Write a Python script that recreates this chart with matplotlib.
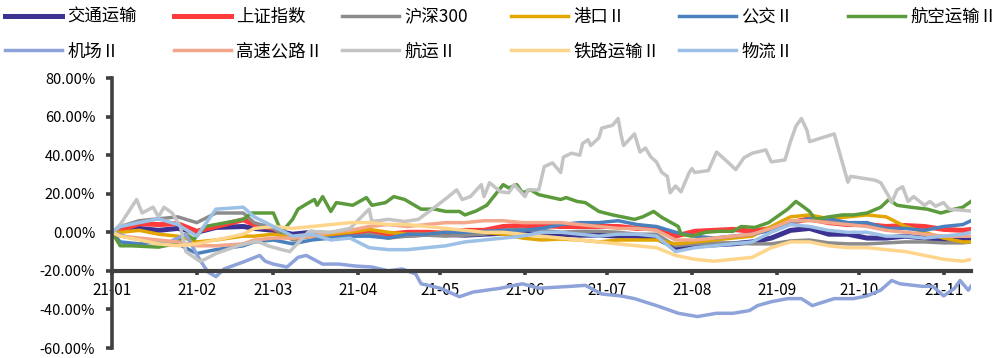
import matplotlib
matplotlib.use("Agg")
import matplotlib.pyplot as plt
import matplotlib.dates as mdates
from matplotlib.ticker import FuncFormatter
import pandas as pd

plt.rcParams['font.family'] = ['Noto Sans CJK SC', 'DejaVu Sans']

# weekly sample dates used by most series
week_dates = ['2021-01-01', '2021-01-04', '2021-01-11', '2021-01-18', '2021-01-25',
              '2021-02-01', '2021-02-08', '2021-02-18', '2021-02-22', '2021-03-01',
              '2021-03-08', '2021-03-15', '2021-03-22', '2021-03-29', '2021-04-05',
              '2021-04-12', '2021-04-19', '2021-04-26', '2021-05-03', '2021-05-10',
              '2021-05-17', '2021-05-24', '2021-05-31', '2021-06-07', '2021-06-14',
              '2021-06-21', '2021-06-28', '2021-07-05', '2021-07-12', '2021-07-19',
              '2021-07-26', '2021-08-02', '2021-08-09', '2021-08-16', '2021-08-23',
              '2021-08-30', '2021-09-06', '2021-09-13', '2021-09-20', '2021-09-27',
              '2021-10-04', '2021-10-11', '2021-10-18', '2021-10-25', '2021-11-01',
              '2021-11-08', '2021-11-11']

jiaotong = [0, 1, 2, 1, 2, 0, 2.5, 3, 2, 1, -1, 0, -1, -1, 0, -1, -1.5, -1, -1, -1.5,
            -1, -0.5, -0.5, -1, -1, -1.5, -1.5, -2, -2, -3, -8, -7, -6.5, -6, -5,
            -3, 1, 2, -1, -1, -3, -3, -2, -3, -4, -4, -4]
shanghai = [0, 1, 4.5, 4, 4.5, 0.5, 3, 6.5, 4, 2, -3, -1, -1, -1, 0, -1, 0, 0, -0.5, 1,
            1, 3, 3.5, 3.5, 3, 3, 3, 3, 2, 2.5, -2, 0.5, 1, 1.5, 0.5, 2, 5, 7, 5, 4,
            4, 3, 3.5, 3, 1.5, 1, 1.5]
hs300 = [0, 3, 6, 7, 8, 5, 10, 10, 5, 2, -4, -2, -3, -2.5, -1, -3, -2, -1.5, -2, -1.5,
         -1, 1, 1.5, 1, 0, 0.5, 0.5, 0, -1, -1, -7, -6, -5.5, -5.5, -6, -6, -4.5, -4,
         -5.5, -6, -6, -5.5, -5, -5, -5.5, -5.5, -5]
gangkou = [0, 0, 1, -1, -2, -5, -4, -2, -2, -1, -3, -2, -1, 0, 1.5, 0, -1, -1, 0, 1,
           0, -1, -3, -4, -3.5, -4, -5, -4, -4, -4, -6, -5, -4, -3, -2, 3, 8, 9, 7, 8,
           9, 8, 3, 0, -3, -5, -5]
gongjiao = [0, -5, -6, -5, -6, -11, -9, -7, -5, -4, -6, -4, -3, -2, -2, -3, -1, -1, 0, 0,
            0.5, 1, 1, 2, 4, 5, 5, 6, 4, 3, 0, -2, -3, -2, -1, 1, 5, 7, 7, 5,
            5, 2, 2, 1, 3, 4, 6]
gaosu = [0, -2, -3, -4, -5, -7, -7, -6, -4, -3, -3, -2, 0, 1, 3, 4, 3, 4, 5, 5,
         6, 6, 5, 5, 5, 4, 3, 2, 2, 1, -4, -4, -3, -2, -1, 2, 6, 6, 5, 4,
         3, 1, 0, -1, -2, -2, -2]
tielu = [0, -2, -4, -6, -7, -6, -4, -1, 2, 3, 2, 3, 4, 5, 5, 4, 4, 3, 2, 1,
         0, 0, -1, -2, -3, -4, -5, -6, -7, -8, -12, -14, -15, -14, -13, -8, -5, -5, -7, -8,
         -8, -9, -10, -12, -14, -15, -14]
wuliu = [0, 3, 5, 7, 4, -2, 12, 13, 8, 3, -2, -1, -4, -3, -8, -9, -9, -8, -7, -5,
         -4, -3, -2, 0, 0, -1, -2, -1, -1, -2, -10, -8, -7, -6, -5, 0, 4, 3, 1, 0,
         0, -2, -2, -3, -2, -1, 0]

# 机场
jichang_dates = ['2021-01-01', '2021-01-08', '2021-01-15', '2021-01-22', '2021-01-28',
                 '2021-02-02', '2021-02-05', '2021-02-08', '2021-02-11', '2021-02-18',
                 '2021-02-24', '2021-02-26', '2021-03-01', '2021-03-06', '2021-03-10',
                 '2021-03-13', '2021-03-19', '2021-03-25', '2021-03-31', '2021-04-06',
                 '2021-04-12', '2021-04-17', '2021-04-22', '2021-04-24', '2021-05-01',
                 '2021-05-08', '2021-05-13', '2021-05-23', '2021-05-31', '2021-06-06',
                 '2021-06-18', '2021-06-23', '2021-06-29', '2021-07-06', '2021-07-11',
                 '2021-07-19', '2021-07-27', '2021-08-03', '2021-08-10', '2021-08-16',
                 '2021-08-22', '2021-08-25', '2021-08-30', '2021-09-05', '2021-09-10',
                 '2021-09-14', '2021-09-22', '2021-09-29', '2021-10-04', '2021-10-09',
                 '2021-10-13', '2021-10-16', '2021-10-24', '2021-10-28', '2021-11-01',
                 '2021-11-05', '2021-11-07', '2021-11-10', '2021-11-11']
jichang = [0, -3, -4, -5, -1, -14, -20.5, -23, -19, -15.4,
           -12, -15, -16.5, -18, -13, -12, -16.5, -16.5, -17.5, -18,
           -20, -19, -21.6, -26.7, -29, -33.4, -31, -29, -26.7, -29,
           -28, -27.5, -32, -33, -34.4, -38, -42, -43.7, -42, -42,
           -40.6, -38, -36, -34.4, -34.4, -38, -34.4, -34.4, -33, -30,
           -25, -26.7, -28, -28, -33, -29, -25, -30, -28]

# 航空运输
hangkong_dates = ['2021-01-01', '2021-01-04', '2021-01-08', '2021-01-18', '2021-01-24',
                  '2021-01-28', '2021-01-31', '2021-02-04', '2021-02-14', '2021-02-18',
                  '2021-02-21', '2021-03-01', '2021-03-04', '2021-03-08', '2021-03-10',
                  '2021-03-14', '2021-03-16', '2021-03-17', '2021-03-19', '2021-03-22',
                  '2021-03-24', '2021-03-30', '2021-04-04', '2021-04-06', '2021-04-11',
                  '2021-04-14', '2021-04-18', '2021-04-24', '2021-04-29', '2021-05-03',
                  '2021-05-08', '2021-05-10', '2021-05-14', '2021-05-18', '2021-05-24',
                  '2021-05-26', '2021-05-29', '2021-05-31', '2021-06-03', '2021-06-06',
                  '2021-06-14', '2021-06-16', '2021-06-20', '2021-06-23', '2021-06-28',
                  '2021-07-03', '2021-07-11', '2021-07-14', '2021-07-18', '2021-07-21',
                  '2021-07-27', '2021-07-28', '2021-08-01', '2021-08-06', '2021-08-11',
                  '2021-08-16', '2021-08-19', '2021-08-24', '2021-08-29', '2021-09-02',
                  '2021-09-05', '2021-09-08', '2021-09-10', '2021-09-13', '2021-09-15',
                  '2021-09-20', '2021-09-25', '2021-09-29', '2021-10-04', '2021-10-09',
                  '2021-10-12', '2021-10-15', '2021-10-20', '2021-10-26', '2021-10-31',
                  '2021-11-05', '2021-11-08', '2021-11-11']
hangkong = [0, -7, -7, -7.7, -6, -1, -3.6, 3, 5.6, 6.7,
            10, 10, 0, 6.7, 12, 15.4, 17, 14, 18.5, 10.8,
            15.4, 14, 18, 14, 15.4, 18.5, 17, 12, 12, 10.8,
            10.8, 9, 11, 14, 24.7, 23, 24.7, 20.5, 22, 19.5,
            17, 18, 16, 15.4, 10.8, 9, 6.7, 8, 10.8, 7.7,
            3, -1, -2, 0, 0.5, 0.5, 3, 2.5, 5, 9,
            12, 16, 14, 10.8, 6.7, 8, 9, 9, 10, 13,
            17, 14, 13, 12, 10, 12, 13, 16]

# 航运
hangyun_dates = ['2021-01-01', '2021-01-04', '2021-01-10', '2021-01-12', '2021-01-16',
                 '2021-01-18', '2021-01-20', '2021-01-23', '2021-01-26', '2021-01-28',
                 '2021-02-02', '2021-02-04', '2021-02-08', '2021-02-16', '2021-02-23',
                 '2021-02-27', '2021-03-04', '2021-03-07', '2021-03-14', '2021-03-22',
                 '2021-03-29', '2021-04-05', '2021-04-06', '2021-04-12', '2021-04-18',
                 '2021-04-23', '2021-04-29', '2021-05-04', '2021-05-07', '2021-05-09',
                 '2021-05-12', '2021-05-16', '2021-05-17', '2021-05-19', '2021-05-23',
                 '2021-05-26', '2021-05-28', '2021-06-01', '2021-06-02', '2021-06-06',
                 '2021-06-08', '2021-06-11', '2021-06-14', '2021-06-15', '2021-06-18',
                 '2021-06-21', '2021-06-22', '2021-06-24', '2021-06-25', '2021-06-28',
                 '2021-06-29', '2021-07-03', '2021-07-05', '2021-07-06', '2021-07-07',
                 '2021-07-11', '2021-07-13', '2021-07-15', '2021-07-17', '2021-07-19',
                 '2021-07-21', '2021-07-23', '2021-07-24', '2021-07-26', '2021-07-28',
                 '2021-07-31', '2021-08-01', '2021-08-02', '2021-08-07', '2021-08-10',
                 '2021-08-14', '2021-08-17', '2021-08-20', '2021-08-23', '2021-08-28',
                 '2021-08-30', '2021-09-04', '2021-09-06', '2021-09-08', '2021-09-10',
                 '2021-09-12', '2021-09-13', '2021-09-22', '2021-09-25', '2021-09-27',
                 '2021-09-28', '2021-10-07', '2021-10-09', '2021-10-12', '2021-10-13',
                 '2021-10-15', '2021-10-17', '2021-10-19', '2021-10-21', '2021-10-25',
                 '2021-10-27', '2021-10-29', '2021-11-01', '2021-11-03', '2021-11-11']
hangyun = [0, 4, 17, 10, 13, 8, 13, 10, 3, -10,
           -15, -14, -11, -7, -4.6, -7, -9, -10, 0.5, 0,
           2, 12, 5.6, 6.7, 5.6, 6.7, 13, 18.5, 22, 17,
           18.5, 24.7, 18.5, 25.7, 21, 20.5, 24.7, 18.5, 22, 22,
           34, 36, 31, 39, 41, 40, 46, 48, 45, 49,
           54, 55.5, 59, 51, 45, 51, 41.6, 43.7, 39, 36.5,
           31, 29, 20.5, 24, 21, 31, 33, 31, 32, 41.6,
           36.5, 32.5, 38.6, 41, 42.7, 36.5, 37.5, 47, 55, 59,
           53, 47, 51, 36, 26, 29, 27, 25.7, 18.5, 15.4,
           22, 23.6, 16, 18.5, 14, 16, 13.5, 15.4, 12, 11]

names = ['交通运输', '上证指数', '沪深300', '港口Ⅱ', '公交Ⅱ', '航空运输Ⅱ',
         '机场Ⅱ', '高速公路Ⅱ', '航运Ⅱ', '铁路运输Ⅱ', '物流Ⅱ']
colors = ['#3C3291', '#FF3B3B', '#8C8C8C', '#E3A600', '#4A80BE', '#5C9B3C',
          '#8EA3D9', '#F2A68A', '#C4C4C4', '#FFD58C', '#9CC0E6']
widths = [3.6, 3.6, 2.5, 2.5, 2.5, 2.5, 2.5, 2.5, 2.5, 2.5, 2.5]
xs = [week_dates, week_dates, week_dates, week_dates, week_dates, hangkong_dates,
      jichang_dates, week_dates, hangyun_dates, week_dates, week_dates]
ys = [jiaotong, shanghai, hs300, gangkou, gongjiao, hangkong,
      jichang, gaosu, hangyun, tielu, wuliu]

fig = plt.figure(figsize=(9.97, 3.58), dpi=100)
ax = fig.add_axes([112 / 997, 1 - 348 / 358, (971 - 112) / 997, (348 - 78) / 358])

lines = []
for name, x, y, c, lw in zip(names, xs, ys, colors, widths):
    ln, = ax.plot(pd.to_datetime(x), y, color=c, lw=lw, label=name, solid_joinstyle='round')
    lines.append(ln)

ax.set_ylim(-60, 80)
ax.set_yticks(range(-60, 81, 20))
ax.yaxis.set_major_formatter(FuncFormatter(lambda v, p: f"{v:.2f}%"))
ax.set_xlim(pd.Timestamp('2021-01-01'), pd.Timestamp('2021-11-11'))
ax.xaxis.set_major_locator(mdates.MonthLocator())
ax.xaxis.set_major_formatter(mdates.DateFormatter('%y-%m'))

for s in ['top', 'right']:
    ax.spines[s].set_visible(False)
ax.spines['left'].set_color('#404040')
ax.spines['left'].set_linewidth(2.6)
ax.spines['bottom'].set_position(('data', -20))
ax.spines['bottom'].set_color('#404040')
ax.spines['bottom'].set_linewidth(3)
ax.tick_params(axis='y', length=4, width=2.6, color='#404040', pad=8, labelsize=10.5)
ax.tick_params(axis='x', length=3, width=2.6, color='#404040', pad=5, labelsize=11)

# legend: 6 columns, 2 rows, evenly spaced
order = [[0, 6], [1, 7], [2, 8], [3, 9], [4, 10], [5]]
for i, idx in enumerate(order):
    fig.legend([lines[k] for k in idx], [names[k] for k in idx],
               loc='upper left', bbox_to_anchor=((5 + i * 168.5) / 997, 1 - 8 / 358),
               frameon=False, fontsize=12.5, handlelength=3.3, handletextpad=0.3,
               borderpad=0, borderaxespad=0, labelspacing=0.95)

fig.savefig('out.png', dpi=100)
